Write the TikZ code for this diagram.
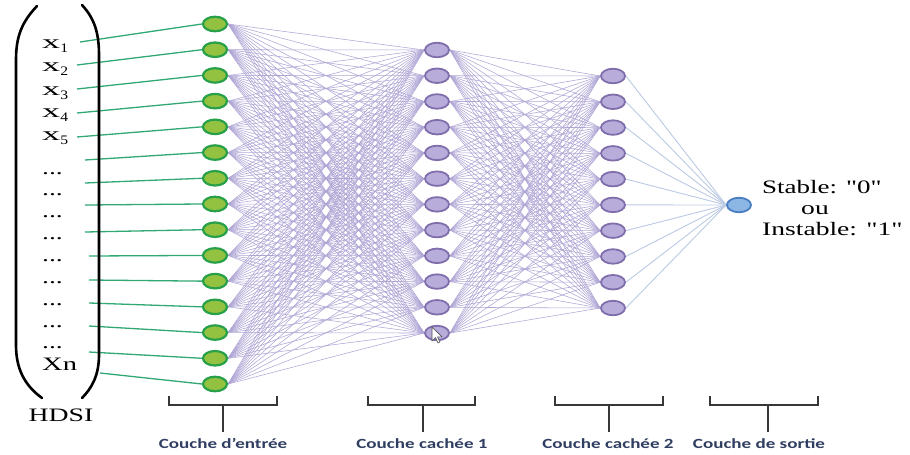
\documentclass[tikz,border=0pt]{standalone}
\usepackage{fontspec}
\setmainfont{Liberation Serif}[Ligatures=TeXOff]
\newfontfamily\capfont{Carlito}
\usetikzlibrary{shapes.geometric}
\pgfdeclarelayer{bg}
\pgfsetlayers{bg,main}
% horizontal stretch of a piece of text
\newcommand\hstretch[2]{\scalebox{#1}[1]{#2}}
\definecolor{inFill}{RGB}{146,194,64}
\definecolor{inLine}{RGB}{40,160,74}
\definecolor{hidFill}{RGB}{184,172,218}
\definecolor{hidLine}{RGB}{128,110,172}
\definecolor{outFill}{RGB}{140,182,228}
\definecolor{outLine}{RGB}{72,126,192}
\definecolor{wireCol}{RGB}{176,166,214}
\definecolor{wireOutCol}{RGB}{188,202,228}
\definecolor{feedCol}{RGB}{50,168,118}
\definecolor{capCol}{RGB}{48,62,98}
\definecolor{brk}{RGB}{55,55,55}
\begin{document}
\begin{tikzpicture}[x=1pt,y=-1pt,
  neuron/.style={ellipse, minimum width=24pt, minimum height=14.5pt, inner sep=0pt},
  inp/.style={neuron, fill=inFill, draw=inLine, line width=2.2pt},
  hid/.style={neuron, fill=hidFill, draw=hidLine, line width=1.8pt},
  outn/.style={neuron, fill=outFill, draw=outLine, line width=1.8pt},
  wire/.style={draw=wireCol, line width=0.55pt},
  wireout/.style={draw=wireOutCol, line width=0.9pt},
  feedline/.style={draw=feedCol, line width=1.3pt},
  paren/.style={line width=2.6pt, line cap=round},
  brace/.style={draw=brk, line width=1.4pt},
  caption/.style={font=\fontsize{14}{16}\selectfont\capfont\bfseries, text=capCol, inner sep=0pt},
  serif/.style={font=\fontsize{19}{21}\selectfont, inner sep=0pt},
]
\useasboundingbox (0,0) rectangle (910,455);

% layers of neurons
\foreach \i in {1,...,15} \node[inp] (in\i) at (215,{24+(\i-1)*25.714}) {};
\foreach \i in {1,...,12} \node[hid] (ha\i) at (437,{50+(\i-1)*25.73}) {};
\foreach \i in {1,...,10} \node[hid] (hb\i) at (613,{76+(\i-1)*25.78}) {};
\node[outn] (out) at (739,205) {};

\begin{pgfonlayer}{bg}
\fill[white] (0,0) rectangle (910,455);
% fully connected weights
\foreach \i in {1,...,15} \foreach \j in {1,...,12} \draw[wire] (in\i.east) -- (ha\j.west);
\foreach \i in {1,...,12} \foreach \j in {1,...,10} \draw[wire] (ha\i.east) -- (hb\j.west);
\foreach \i in {1,...,10} \draw[wireout] (hb\i.east) -- (out.west);
% feature lines into the input layer
\foreach \i/\px/\py in {1/80/42, 2/77/65, 3/77/89, 4/77/113, 5/77/137, 6/85/160, 7/85/183, 8/85/205,
    9/85/232, 10/89/256, 11/89/280, 12/89/303, 13/89/326, 14/89/352, 15/100/373} {
  \coordinate (fd\i) at (\px,\py);
  \draw[feedline] (fd\i) -- (in\i.west);
}
\end{pgfonlayer}

% input vector
\foreach \k/\by in {1/48, 2/71, 3/95, 4/117, 5/140}
  \node[serif, anchor=base west] (x\k) at (42,\by) {\hstretch{1.9}{x}\hstretch{1.2}{\raisebox{-4pt}{\fontsize{13}{13}\selectfont\k}}};
\foreach \k/\by in {1/174, 2/195, 3/217, 4/239, 5/261, 6/283, 7/305, 8/327, 9/348}
  \node[serif, anchor=base west] (d\k) at (42,\by) {\hstretch{1.45}{...}};
\node[serif, anchor=base west] (xn) at (42,370) {\hstretch{1.5}{Xn}};
\node[serif, anchor=base] (hdsi) at (61,421) {\hstretch{1.46}{HDSI}};

% vector parentheses
\draw[paren] (37,6) .. controls (22,22) and (16,36) .. (16,60) -- (16,345) .. controls (16,368) and (24,385) .. (42,398);
\draw[paren] (82,5) .. controls (94,18) and (99,32) .. (99,55) -- (99,355) .. controls (99,375) and (92,388) .. (82,398);

% output decision
\node[serif, anchor=base west] (st) at (762,193) {\hstretch{1.42}{Stable: "0"}};
\node[serif, anchor=base] (ou) at (815,214) {\hstretch{1.45}{ou}};
\node[serif, anchor=base west] (inst) at (762,235) {\hstretch{1.45}{Instable: "1"}};

% layer brackets and captions
\foreach \n/\l/\c/\r/\tx/\txt in {
    a/169/223/277/223/{Couche d’entrée},
    b/368/423/475/422/{Couche cachée 1},
    c/555/609/663/608/{Couche cachée 2},
    d/710/768/818/759/{Couche de sortie}} {
  \draw[brace] (\l,396) -- (\l,405) -- (\r,405) -- (\r,396);
  \coordinate (stem\n) at (\c,405);
  \node[caption, anchor=base] (cap\n) at (\tx,448) {\hstretch{1.36}{\txt}};
  \draw[brace] (stem\n) -- (\c,432);
}

% mouse pointer over the last hidden neuron
\draw[fill=white, draw=black!70, line width=0.6pt, line join=round]
  (432,327) -- (432,341) -- (435.5,337.5) -- (438,343) -- (440,342) -- (437.5,336.8) -- (442,336.8) -- cycle;
\end{tikzpicture}
\end{document}
